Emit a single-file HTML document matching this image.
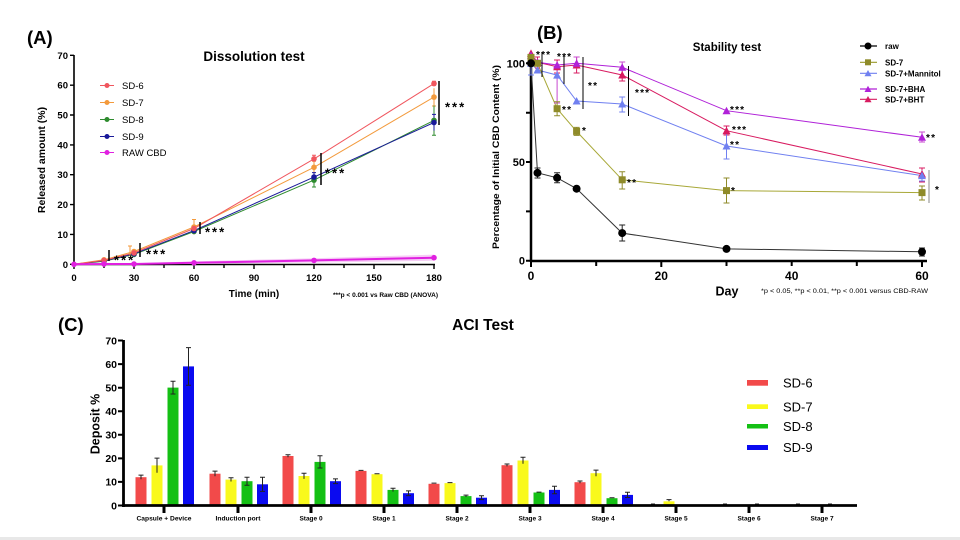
<!DOCTYPE html>
<html><head><meta charset="utf-8"><style>
html,body{margin:0;padding:0;background:#fff;}
svg{display:block;}
text{font-family:"Liberation Sans",Arial,sans-serif;}
</style></head><body>
<svg width="960" height="540" viewBox="0 0 960 540" xmlns="http://www.w3.org/2000/svg">
<rect width="960" height="540" fill="#fff"/>
<rect x="0" y="537" width="960" height="3" fill="#e8e8e8"/>

<!-- ================= PANEL A ================= -->
<text x="27" y="44" font-size="18.5" font-weight="bold">(A)</text>
<text x="254" y="61" font-size="13.5" font-weight="bold" text-anchor="middle">Dissolution test</text>
<path d="M74 55 V265 M73 264.5 H435" stroke="#000" stroke-width="1.6" fill="none"/>
<g stroke="#000" stroke-width="1.4">
<path d="M70 264.3H74M70 234.4H74M70 204.6H74M70 174.7H74M70 144.9H74M70 115H74M70 85.2H74M70 55.3H74"/>
<path d="M74 264V269M104 264V268M134 264V269M164 264V268M194 264V269M224 264V268M254 264V269M284 264V268M314 264V269M344 264V268M374 264V269M404 264V268M434 264V269"/>
</g>
<g font-size="9.5" font-weight="bold" text-anchor="end">
<text x="68" y="267.8">0</text><text x="68" y="237.9">10</text><text x="68" y="208.1">20</text><text x="68" y="178.2">30</text><text x="68" y="148.4">40</text><text x="68" y="118.5">50</text><text x="68" y="88.7">60</text><text x="68" y="58.8">70</text>
</g>
<g font-size="9.5" font-weight="bold" text-anchor="middle">
<text x="74" y="281">0</text><text x="134" y="281">30</text><text x="194" y="281">60</text><text x="254" y="281">90</text><text x="314" y="281">120</text><text x="374" y="281">150</text><text x="434" y="281">180</text>
</g>
<text transform="translate(45,160) rotate(-90)" font-size="10.5" font-weight="bold" text-anchor="middle">Released amount (%)</text>
<text x="254" y="297" font-size="10" font-weight="bold" text-anchor="middle">Time (min)</text>
<text x="333" y="297" font-size="6" font-weight="bold" textLength="105" lengthAdjust="spacingAndGlyphs">***p &lt; 0.001 vs Raw CBD (ANOVA)</text>

<!-- legend A -->
<g font-size="9.5">
<path d="M100 85.5H114" stroke="#f0565e" stroke-width="1"/><circle cx="107" cy="85.5" r="2.5" fill="#f0565e"/><text x="122" y="89">SD-6</text>
<path d="M100 102.5H114" stroke="#f39a3c" stroke-width="1"/><circle cx="107" cy="102.5" r="2.5" fill="#f39a3c"/><text x="122" y="106">SD-7</text>
<path d="M100 119.5H114" stroke="#2e8b2e" stroke-width="1"/><circle cx="107" cy="119.5" r="2.5" fill="#2e8b2e"/><text x="122" y="123">SD-8</text>
<path d="M100 136.5H114" stroke="#1a1a9a" stroke-width="1"/><circle cx="107" cy="136.5" r="2.5" fill="#1a1a9a"/><text x="122" y="140">SD-9</text>
<path d="M100 152.5H114" stroke="#e020e0" stroke-width="1"/><circle cx="107" cy="152.5" r="2.5" fill="#e020e0"/><text x="122" y="156">RAW CBD</text>
</g>

<!-- raw band -->
<polygon points="134,263.2 194,261.4 314,258.2 434,254.6 434,260.8 314,262.6 194,264 134,264.3" fill="#f6cdf6"/>
<!-- series A -->
<g fill="none" stroke-width="1">
<polyline stroke="#2e8b2e" points="74,264.3 104,261.3 134,254.4 194,231.5 314,180.1 434,120.4"/>
<polyline stroke="#1a1a9a" points="74,264.3 104,260.7 134,253.8 194,230.6 314,177.1 434,122.5"/>
<polyline stroke="#f39a3c" points="74,264.3 104,259.8 134,251.5 194,227 314,167.3 434,97.1"/>
<polyline stroke="#f0565e" points="74,264.3 104,260.4 134,252.9 194,228.5 314,158.9 434,83.6"/>
<polyline stroke="#e020e0" stroke-width="2" points="74,264.3 104,264 134,264 194,262.8 314,260.4 434,257.7"/>
</g>
<!-- error bars A -->
<g fill="none" stroke-width="1">
<path stroke="#f0565e" d="M314 155.3V162.5M312 155.3H316M434 81.2V86M432 81.2H436"/>
<path stroke="#f39a3c" d="M194 219.5V234.5M192 219.5H196M314 161.3V173.3M312 161.3H316M434 88.2V106M432 106H436M130 246V256M128 246H132"/>
<path stroke="#2e8b2e" d="M314 173.2V187M312 187H316M434 105.5V135.3M432 135.3H436"/>
<path stroke="#1a1a9a" d="M314 172.6V181.6M312 172.6H316M434 114.4V130.6M432 114.4H436"/>
</g>
<!-- markers A -->
<g>
<g fill="#2e8b2e"><circle cx="104" cy="261.3" r="2.8"/><circle cx="134" cy="254.4" r="2.8"/><circle cx="194" cy="231.5" r="2.8"/><circle cx="314" cy="180.1" r="2.8"/><circle cx="434" cy="120.4" r="2.8"/></g>
<g fill="#1a1a9a"><circle cx="104" cy="260.7" r="2.8"/><circle cx="134" cy="253.8" r="2.8"/><circle cx="194" cy="230.6" r="2.8"/><circle cx="314" cy="177.1" r="2.8"/><circle cx="434" cy="122.5" r="2.8"/></g>
<g fill="#f39a3c"><circle cx="104" cy="259.8" r="2.8"/><circle cx="134" cy="251.5" r="2.8"/><circle cx="194" cy="227" r="2.8"/><circle cx="314" cy="167.3" r="2.8"/><circle cx="434" cy="97.1" r="2.8"/></g>
<g fill="#f0565e"><circle cx="104" cy="260.4" r="2.8"/><circle cx="134" cy="252.9" r="2.8"/><circle cx="194" cy="228.5" r="2.8"/><circle cx="314" cy="158.9" r="2.8"/><circle cx="434" cy="83.6" r="2.8"/></g>
<g fill="#e020e0"><circle cx="74" cy="264.3" r="2.8"/><circle cx="104" cy="264" r="2.8"/><circle cx="134" cy="264" r="2.8"/><circle cx="194" cy="262.8" r="2.8"/><circle cx="314" cy="260.4" r="2.8"/><circle cx="434" cy="257.7" r="2.8"/></g>
</g>
<!-- significance A -->
<path d="M109 250V261M140 243V257M200 222V234M321 153V185M439 81V125" stroke="#000" stroke-width="1.5"/>
<g font-size="13" font-weight="bold" letter-spacing="2">
<text x="114" y="264.5">***</text><text x="146" y="258.5">***</text><text x="205" y="236.5">***</text><text x="325" y="177.5">***</text><text x="445" y="111.5">***</text>
</g>

<!-- ================= PANEL B ================= -->
<text x="537" y="39" font-size="18.5" font-weight="bold">(B)</text>
<text x="727" y="51" font-size="11.5" font-weight="bold" text-anchor="middle">Stability test</text>
<path d="M531 62V262M530 261H927" stroke="#000" stroke-width="2.5" fill="none"/>
<g stroke="#000" stroke-width="2">
<path d="M526 260.7H531M526 211.4H531M526 162H531M526 112.7H531M526 63.3H531"/>
<path d="M531 261V267M596.2 261V266M661.3 261V267M726.5 261V266M791.7 261V266M856.8 261V266M922 261V267"/>
</g>
<g font-size="11" font-weight="bold" text-anchor="end">
<text x="525" y="264.7">0</text><text x="525" y="166">50</text><text x="525" y="67.3">100</text>
</g>
<g font-size="12" font-weight="bold" text-anchor="middle">
<text x="531" y="280">0</text><text x="661.3" y="280">20</text><text x="791.7" y="280">40</text><text x="922" y="280">60</text>
</g>
<text transform="translate(499,157) rotate(-90)" font-size="9" font-weight="bold" text-anchor="middle" textLength="184" lengthAdjust="spacingAndGlyphs">Percentage of Initial CBD Content (%)</text>
<text x="727" y="295.5" font-size="12.5" font-weight="bold" text-anchor="middle">Day</text>
<text x="761" y="293" font-size="6.5" textLength="167" lengthAdjust="spacingAndGlyphs">*p &lt; 0.05, **p &lt; 0.01, **p &lt; 0.001 versus CBD-RAW</text>

<!-- legend B -->
<g font-size="8" font-weight="bold">
<path d="M860 46H877" stroke="#000" stroke-width="1.2"/><circle cx="868" cy="46" r="3.5" fill="#000"/><text x="885" y="49">raw</text>
<path d="M860 62.3H877" stroke="#9a9a2a" stroke-width="1.2"/><rect x="865" y="59.3" width="6" height="6" fill="#8f8b2a"/><text x="885" y="65.3">SD-7</text>
<path d="M860 73.3H877" stroke="#7080f0" stroke-width="1.2"/><path d="M864.5 76.3H871.5L868 70Z" fill="#7080f0"/><text x="885" y="76.3">SD-7+Mannitol</text>
<path d="M860 89H877" stroke="#b022d8" stroke-width="1.2"/><path d="M864.5 92H871.5L868 85.7Z" fill="#b022d8"/><text x="885" y="92">SD-7+BHA</text>
<path d="M860 99.3H877" stroke="#d81b60" stroke-width="1.2"/><path d="M864.5 102.3H871.5L868 96Z" fill="#d81b60"/><text x="885" y="102.3">SD-7+BHT</text>
</g>

<!-- series B lines -->
<g fill="none" stroke-width="1">
<polyline stroke="#d81b60" points="531,53.4 537.5,62.3 557.1,66.7 576.6,65 622.2,75 726.5,130.7 922,174"/>
<polyline stroke="#b022d8" points="531,55.4 537.5,62.3 557.1,65 576.6,63.3 622.2,67.3 726.5,110.7 922,137.3"/>
<polyline stroke="#7080f0" points="531,63.3 537.5,70 557.1,75.1 576.6,101 622.2,104 726.5,146 922,175.6"/>
<polyline stroke="#a8a838" points="531,57.4 537.5,63.3 557.1,108.7 576.6,131.4 622.2,179.8 726.5,190.6 922,192.6"/>
<polyline stroke="#333" points="531,63.3 537.5,172.9 557.1,177.8 576.6,188.7 622.2,233.1 726.5,248.9 922,251.8"/>
</g>
<!-- error bars B -->
<g fill="none" stroke-width="1">
<path stroke="#d81b60" d="M537.5 57V68M535 57H540M535 68H540M557.1 60V73M554 60H560M554 73H560M576.6 57V73M573.6 57H579.6M573.6 73H579.6M622.2 69V81M619.2 69H625.2M619.2 81H625.2M726.5 126V135M723.5 126H729.5M723.5 135H729.5M922 168V182M919 168H925M919 182H925"/>
<path stroke="#c84ad0" d="M557.1 62V103M554.1 103H560.1M576.6 57V69M573.6 57H579.6M622.2 62V72M619.2 62H625.2M922 132V142M919 132H925M919 142H925"/>
<path stroke="#7080f0" d="M531 57V75M528 75H534M622.2 97V112M619.2 97H625.2M619.2 112H625.2M726.5 133V159M723.5 133H729.5M723.5 159H729.5M922 170V181M919 181H925"/>
<path stroke="#8f8b2a" d="M557.1 101.7V115.7M554.1 101.7H560.1M554.1 115.7H560.1M576.6 127.4V135.4M573.6 127.4H579.6M573.6 135.4H579.6M622.2 171.7V189M619.2 171.7H625.2M619.2 189H625.2M726.5 178V203M723.5 178H729.5M723.5 203H729.5M922 186V200M919 186H925M919 200H925"/>
<path stroke="#222" d="M537.5 168V178M534.5 168H540.5M534.5 178H540.5M557.1 172.8V182.8M554.1 172.8H560.1M554.1 182.8H560.1M622.2 225V241M619.2 225H625.2M619.2 241H625.2M922 248V256M919 248H925M919 256H925"/>
</g>
<!-- markers B -->
<g fill="#d81b60">
<path d="M527 56.9H535L531 49.4Z"/><path d="M533.5 65.8H541.5L537.5 58.3Z"/><path d="M553.1 70.2H561.1L557.1 62.7Z"/><path d="M572.6 68.5H580.6L576.6 61Z"/><path d="M618.2 78.5H626.2L622.2 71Z"/><path d="M722.5 134.2H730.5L726.5 126.7Z"/><path d="M918 177.5H926L922 170Z"/>
</g>
<g fill="#b022d8">
<path d="M527 58.9H535L531 51.4Z"/><path d="M533.5 65.8H541.5L537.5 58.3Z"/><path d="M553.1 68.5H561.1L557.1 61Z"/><path d="M572.6 66.8H580.6L576.6 59.3Z"/><path d="M618.2 70.8H626.2L622.2 63.3Z"/><path d="M722.5 114.2H730.5L726.5 106.7Z"/><path d="M918 140.8H926L922 133.3Z"/>
</g>
<g fill="#7080f0">
<path d="M527 66.8H535L531 59.3Z"/><path d="M533.5 73.5H541.5L537.5 66Z"/><path d="M553.1 78.6H561.1L557.1 71.1Z"/><path d="M572.6 104.5H580.6L576.6 97Z"/><path d="M618.2 107.5H626.2L622.2 100Z"/><path d="M722.5 149.5H730.5L726.5 142Z"/><path d="M918 179.1H926L922 171.6Z"/>
</g>
<g fill="#8f8b2a">
<rect x="527.5" y="53.9" width="7" height="7"/><rect x="534" y="59.8" width="7" height="7"/><rect x="553.6" y="105.2" width="7" height="7"/><rect x="573.1" y="127.9" width="7" height="7"/><rect x="618.7" y="176.3" width="7" height="7"/><rect x="723" y="187.1" width="7" height="7"/><rect x="918.5" y="189.1" width="7" height="7"/>
</g>
<g fill="#000">
<circle cx="531" cy="63.3" r="4"/><circle cx="537.5" cy="172.9" r="4"/><circle cx="557.1" cy="177.8" r="4"/><circle cx="576.6" cy="188.7" r="4"/><circle cx="622.2" cy="233.1" r="4"/><circle cx="726.5" cy="248.9" r="4"/><circle cx="922" cy="251.8" r="4"/>
</g>
<!-- significance B -->
<path d="M542 52V77M564 56V84M583 57V109M628.5 66V116" stroke="#000" stroke-width="1"/>
<path d="M929 170V203" stroke="#888" stroke-width="1"/>
<g font-size="10" font-weight="bold" letter-spacing="1.2">
<text x="536" y="58">***</text><text x="557" y="60">***</text><text x="588" y="89">**</text><text x="635" y="96">***</text><text x="935" y="193">*</text>
<text x="562" y="113">**</text><text x="582" y="134">*</text><text x="627" y="186">**</text><text x="731" y="194">*</text>
<text x="730" y="113">***</text><text x="732" y="133">***</text><text x="730" y="148">**</text><text x="926" y="141">**</text>
</g>

<!-- ================= PANEL C ================= -->
<text x="58" y="331" font-size="18.5" font-weight="bold">(C)</text>
<text x="483" y="330" font-size="15.5" font-weight="bold" text-anchor="middle">ACI Test</text>
<text transform="translate(99.5,424) rotate(-90)" font-size="12.5" font-weight="bold" text-anchor="middle">Deposit %</text>
<g stroke="#000" stroke-width="2">
<path d="M118 505.5H123M118 481.9H123M118 458.4H123M118 434.8H123M118 411.2H123M118 387.7H123M118 364.1H123M118 340.5H123"/>
</g>
<g font-size="10.5" font-weight="bold" text-anchor="end">
<text x="117" y="509.3">0</text><text x="117" y="485.7">10</text><text x="117" y="462.2">20</text><text x="117" y="438.6">30</text><text x="117" y="415">40</text><text x="117" y="391.5">50</text><text x="117" y="367.9">60</text><text x="117" y="344.3">70</text>
</g>

<!-- bars -->
<g fill="#f24a4a">
<rect x="135.5" y="477.2" width="11" height="28.3"/><rect x="209.5" y="473.7" width="11" height="31.8"/><rect x="282.5" y="456" width="11" height="49.5"/><rect x="355.5" y="470.9" width="11" height="34.6"/><rect x="428.5" y="483.8" width="11" height="21.7"/><rect x="501.5" y="465.2" width="11" height="40.3"/><rect x="574.5" y="482.2" width="11" height="23.3"/><rect x="647.5" y="504.5" width="11" height="1"/>
</g>
<g fill="#f9f91c">
<rect x="151.5" y="465.4" width="11" height="40.1"/><rect x="225.5" y="479.6" width="11" height="25.9"/><rect x="298.5" y="476" width="11" height="29.5"/><rect x="371.5" y="474.2" width="11" height="31.3"/><rect x="444.5" y="483.1" width="11" height="22.4"/><rect x="517.5" y="460.5" width="11" height="45"/><rect x="590.5" y="473.2" width="11" height="32.3"/><rect x="663.5" y="501.3" width="11" height="4.2"/>
</g>
<g fill="#14c014">
<rect x="167.5" y="387.6" width="11" height="117.9"/><rect x="241.5" y="481.2" width="11" height="24.3"/><rect x="314.5" y="461.9" width="11" height="43.6"/><rect x="387.5" y="489.9" width="11" height="15.6"/><rect x="460.5" y="496.1" width="11" height="9.4"/><rect x="533.5" y="492.5" width="11" height="13"/><rect x="606.5" y="498.2" width="11" height="7.3"/>
</g>
<g fill="#0a0af0">
<rect x="183" y="366.4" width="11" height="139.1"/><rect x="257" y="484.3" width="11" height="21.2"/><rect x="330" y="481.2" width="11" height="24.3"/><rect x="403" y="493.2" width="11" height="12.3"/><rect x="476" y="497.7" width="11" height="7.8"/><rect x="549" y="489.9" width="11" height="15.6"/><rect x="622" y="494.9" width="11" height="10.6"/>
</g>
<!-- error bars C -->
<g stroke="#222" stroke-width="1" fill="none">
<path d="M141 475.1V479.3M138.5 475.1H143.5M157 458.1V472.7M154.5 458.1H159.5M173 381.3V394M170.5 381.3H175.5M170.5 394H175.5M188.5 347.6V385.3M186 347.6H191M186 385.3H191"/>
<path d="M215 471.1V476.3M212.5 471.1H217.5M231 477.7V481.5M228.5 477.7H233.5M247 477.2V485.2M244.5 477.2H249.5M244.5 485.2H249.5M262.5 477.2V491.4M260 477.2H265M260 491.4H265"/>
<path d="M288 454.8V457.2M285.5 454.8H290.5M304 473.2V478.9M301.5 473.2H306.5M320 455.8V468M317.5 455.8H322.5M317.5 468H322.5M335.5 478.9V483.6M333 478.9H338M333 483.6H338"/>
<path d="M358.5 470.4H363.5M374.5 473.7H379.5M393 488.3V491.6M390.5 488.3H395.5M408.5 490.9V495.6M406 490.9H411M406 495.6H411"/>
<path d="M431.5 483.1H436.5M447.5 482.6H452.5M466 495.1V497M463.5 495.1H468.5M481.5 495.8V499.6M479 495.8H484M479 499.6H484"/>
<path d="M507 464V466.4M504.5 464H509.5M523 457.2V463.8M520.5 457.2H525.5M536.5 492.1H541.5M554.5 486.2V493.7M552 486.2H557M552 493.7H557"/>
<path d="M580 481V483.3M577.5 481H582.5M596 470.1V476.3M593.5 470.1H598.5M609.5 497.7H614.5M627.5 492.3V497.5M625 492.3H630M625 497.5H630"/>
<path d="M669 499.6V501.3M666.5 499.6H671.5M651 504H655M723 504H727M755 504H759M796 504H800M828 504H832"/>
</g>
<!-- axes C -->
<path d="M123.5 340V507M122 505.5H857" stroke="#000" stroke-width="2.8" fill="none"/>
<path d="M164 505V513M238 505V513M311 505V513M384 505V513M457 505V513M530 505V513M603 505V513M676 505V513M749 505V513M822 505V513" stroke="#000" stroke-width="3"/>
<g font-size="6.5" font-weight="bold" text-anchor="middle">
<text x="164" y="520.5" textLength="55" lengthAdjust="spacingAndGlyphs">Capsule + Device</text>
<text x="238" y="520.5" textLength="45" lengthAdjust="spacingAndGlyphs">Induction port</text>
<text x="311" y="520.5">Stage 0</text><text x="384" y="520.5">Stage 1</text><text x="457" y="520.5">Stage 2</text><text x="530" y="520.5">Stage 3</text><text x="603" y="520.5">Stage 4</text><text x="676" y="520.5">Stage 5</text><text x="749" y="520.5">Stage 6</text><text x="822" y="520.5">Stage 7</text>
</g>
<!-- legend C -->
<rect x="747" y="380" width="21" height="5.7" fill="#f24a4a"/>
<rect x="747" y="404.3" width="21" height="4.7" fill="#f9f91c"/>
<rect x="747" y="424" width="21" height="4.5" fill="#14c014"/>
<rect x="747" y="445" width="21" height="5" fill="#0a0af0"/>
<g font-size="13">
<text x="783" y="387.5">SD-6</text><text x="783" y="411.5">SD-7</text><text x="783" y="430.8">SD-8</text><text x="783" y="452">SD-9</text>
</g>
</svg>
</body></html>
